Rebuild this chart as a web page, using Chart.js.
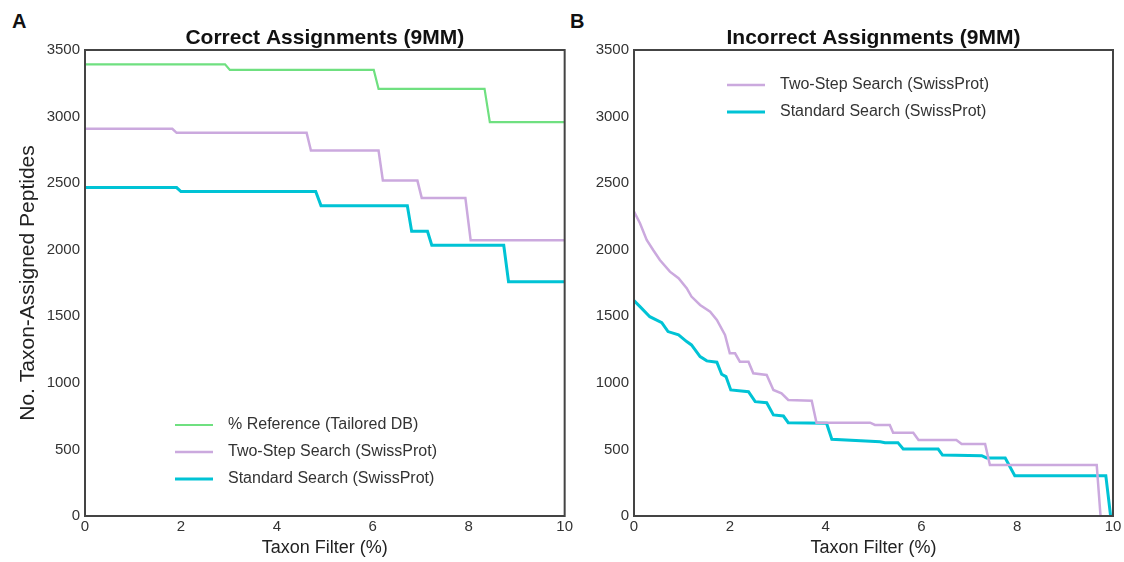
<!DOCTYPE html>
<html>
<head>
<meta charset="utf-8">
<script src="https://cdn.jsdelivr.net/npm/chart.js@4.4.0/dist/chart.umd.min.js"></script>
<style>
  body { margin: 0; background: #fff; width: 1124px; height: 562px; overflow: hidden; position: relative; }
  .panel { position: absolute; top: 0; height: 562px; }
  #left { left: 0; width: 575px; }
  #right { left: 560px; width: 564px; }
  .tag { position: absolute; top: 10px; font: bold 20px 'Liberation Sans', Arial, sans-serif; color: #111; }
</style>
</head>
<body>
<div class="tag" style="left:12px">A</div>
<div class="tag" style="left:570px">B</div>
<div class="panel" id="left"><canvas id="correctChart"></canvas></div>
<div class="panel" id="right"><canvas id="incorrectChart"></canvas></div>
<script>
// x ticks and y ticks
const xTicks = [0, 2, 4, 6, 8, 10];
const yTicks = [0, 500, 1000, 1500, 2000, 2500, 3000, 3500];

// A - correct assignments
const refX = [0, 2.92, 3.02, 6.02, 6.12, 8.33, 8.44, 10];
const refY = [3392, 3392, 3350, 3350, 3208, 3208, 2958, 2958];
const twoStepX = [0, 1.82, 1.91, 4.62, 4.71, 6.12, 6.21, 6.93, 7.02, 7.93, 8.04, 10];
const twoStepY = [2908, 2908, 2878, 2878, 2745, 2745, 2519, 2519, 2389, 2389, 2071, 2071];
const standardX = [0, 1.91, 2.0, 4.81, 4.92, 6.72, 6.81, 7.14, 7.23, 8.73, 8.83, 10];
const standardY = [2467, 2467, 2437, 2437, 2331, 2331, 2139, 2139, 2034, 2034, 1760, 1760];

// B - incorrect assignments
const wrongTwoStepX = [0, 0.125, 0.265, 0.40, 0.54, 0.75, 0.93, 1.10, 1.20, 1.38, 1.59, 1.73, 1.90, 2.00, 2.11, 2.21, 2.39, 2.49, 2.77, 2.91, 3.08, 3.22, 3.71, 3.81, 4.93, 5.03, 5.34, 5.41, 5.83, 5.94, 6.73, 6.84, 7.33, 7.43, 9.66, 9.74];
const wrongTwoStepY = [2286, 2199, 2074, 1998, 1923, 1835, 1786, 1711, 1648, 1585, 1535, 1473, 1360, 1222, 1222, 1159, 1159, 1072, 1059, 947, 922, 872, 866, 701, 701, 684, 684, 626, 626, 571, 571, 541, 541, 383, 383, 0];
const wrongStandardX = [0, 0.125, 0.33, 0.58, 0.71, 0.93, 1.10, 1.20, 1.38, 1.52, 1.73, 1.83, 1.92, 2.02, 2.39, 2.53, 2.77, 2.91, 3.12, 3.22, 4.02, 4.13, 5.14, 5.24, 5.51, 5.62, 6.35, 6.44, 7.26, 7.36, 7.75, 7.95, 9.85, 9.95];
const wrongStandardY = [1618, 1573, 1497, 1452, 1385, 1360, 1310, 1285, 1197, 1165, 1155, 1065, 1047, 947, 934, 859, 851, 759, 751, 701, 696, 576, 558, 551, 551, 503, 503, 458, 453, 436, 436, 303, 303, 0];

const FONT = "'Liberation Sans', Arial, sans-serif";
const GREEN = '#6fe080';
const PURPLE = '#cba9de';
const CYAN = '#00c3d5';

function pts(xs, ys) {
    return xs.map((x, i) => ({ x: x, y: ys[i] }));
}

// frame around plot, title centred over plot, legend inside plot area
const framePlugin = {
    id: 'frame',
    afterDraw(chart, args, opts) {
        const ctx = chart.ctx;
        const a = chart.chartArea;
        ctx.save();
        ctx.strokeStyle = '#444';
        ctx.lineWidth = 2;
        ctx.strokeRect(a.left, a.top, a.right - a.left, a.bottom - a.top);

        ctx.font = 'bold 21px ' + FONT;
        ctx.fillStyle = '#111';
        ctx.textAlign = 'center';
        ctx.textBaseline = 'middle';
        ctx.fillText(opts.title, (a.left + a.right) / 2, a.top - 12);

        ctx.font = '16px ' + FONT;
        ctx.textAlign = 'left';
        chart.data.datasets.forEach((ds, i) => {
            const y = a.top + opts.top + i * opts.gap;
            const x = a.left + opts.left;
            ctx.strokeStyle = ds.borderColor;
            ctx.lineWidth = ds.borderWidth;
            ctx.beginPath();
            ctx.moveTo(x, y);
            ctx.lineTo(x + 38, y);
            ctx.stroke();
            ctx.fillStyle = '#333';
            ctx.fillText(ds.label, x + 53, y);
        });
        ctx.restore();
    }
};

function makeOptions(yTitle, yWidth, pad, frame) {
    return {
        responsive: true,
        maintainAspectRatio: false,
        animation: false,
        layout: { padding: pad },
        elements: { point: { radius: 0 }, line: { tension: 0 } },
        plugins: {
            legend: { display: false },
            tooltip: { enabled: false },
            title: { display: false },
            frame: frame
        },
        scales: {
            x: {
                type: 'linear',
                min: 0,
                max: 10,
                afterBuildTicks: (s) => { s.ticks = xTicks.map(v => ({ value: v })); },
                afterFit: (s) => { s.height = 46; },
                grid: { display: false, drawTicks: false },
                border: { display: false },
                ticks: { color: '#333', font: { family: FONT, size: 15 }, padding: 2, maxRotation: 0,
                    callback: (v) => String(v) },
                title: {
                    display: true,
                    text: 'Taxon Filter (%)',
                    color: '#222',
                    font: { family: FONT, size: 18 },
                    padding: { top: 0, bottom: 3 }
                }
            },
            y: {
                min: 0,
                max: 3500,
                afterBuildTicks: (s) => { s.ticks = yTicks.map(v => ({ value: v })); },
                afterFit: (s) => { s.width = yWidth; },
                grid: { display: false, drawTicks: false },
                border: { display: false },
                ticks: { color: '#333', font: { family: FONT, size: 15 }, padding: 5,
                    callback: (v) => String(v) },
                title: {
                    display: yTitle !== '',
                    text: yTitle,
                    color: '#222',
                    font: { family: FONT, size: 21 },
                    padding: { top: 6, bottom: 0 }
                }
            }
        }
    };
}

new Chart(document.querySelector('#correctChart'), {
    type: 'line',
    data: {
        datasets: [
            { label: '% Reference (Tailored DB)', data: pts(refX, refY), borderColor: GREEN, borderWidth: 2.2 },
            { label: 'Two-Step Search (SwissProt)', data: pts(twoStepX, twoStepY), borderColor: PURPLE, borderWidth: 2.5 },
            { label: 'Standard Search (SwissProt)', data: pts(standardX, standardY), borderColor: CYAN, borderWidth: 3 }
        ]
    },
    options: makeOptions('No. Taxon-Assigned Peptides', 75,
        { top: 50, left: 10, right: 10, bottom: 0 },
        { title: 'Correct Assignments (9MM)', top: 375, left: 90, gap: 27 }),
    plugins: [framePlugin]
});

new Chart(document.querySelector('#incorrectChart'), {
    type: 'line',
    data: {
        datasets: [
            { label: 'Two-Step Search (SwissProt)', data: pts(wrongTwoStepX, wrongTwoStepY), borderColor: PURPLE, borderWidth: 2.5 },
            { label: 'Standard Search (SwissProt)', data: pts(wrongStandardX, wrongStandardY), borderColor: CYAN, borderWidth: 3 }
        ]
    },
    options: makeOptions('', 74,
        { top: 50, left: 0, right: 11, bottom: 0 },
        { title: 'Incorrect Assignments (9MM)', top: 35, left: 93, gap: 27 }),
    plugins: [framePlugin]
});
</script>
</body>
</html>
